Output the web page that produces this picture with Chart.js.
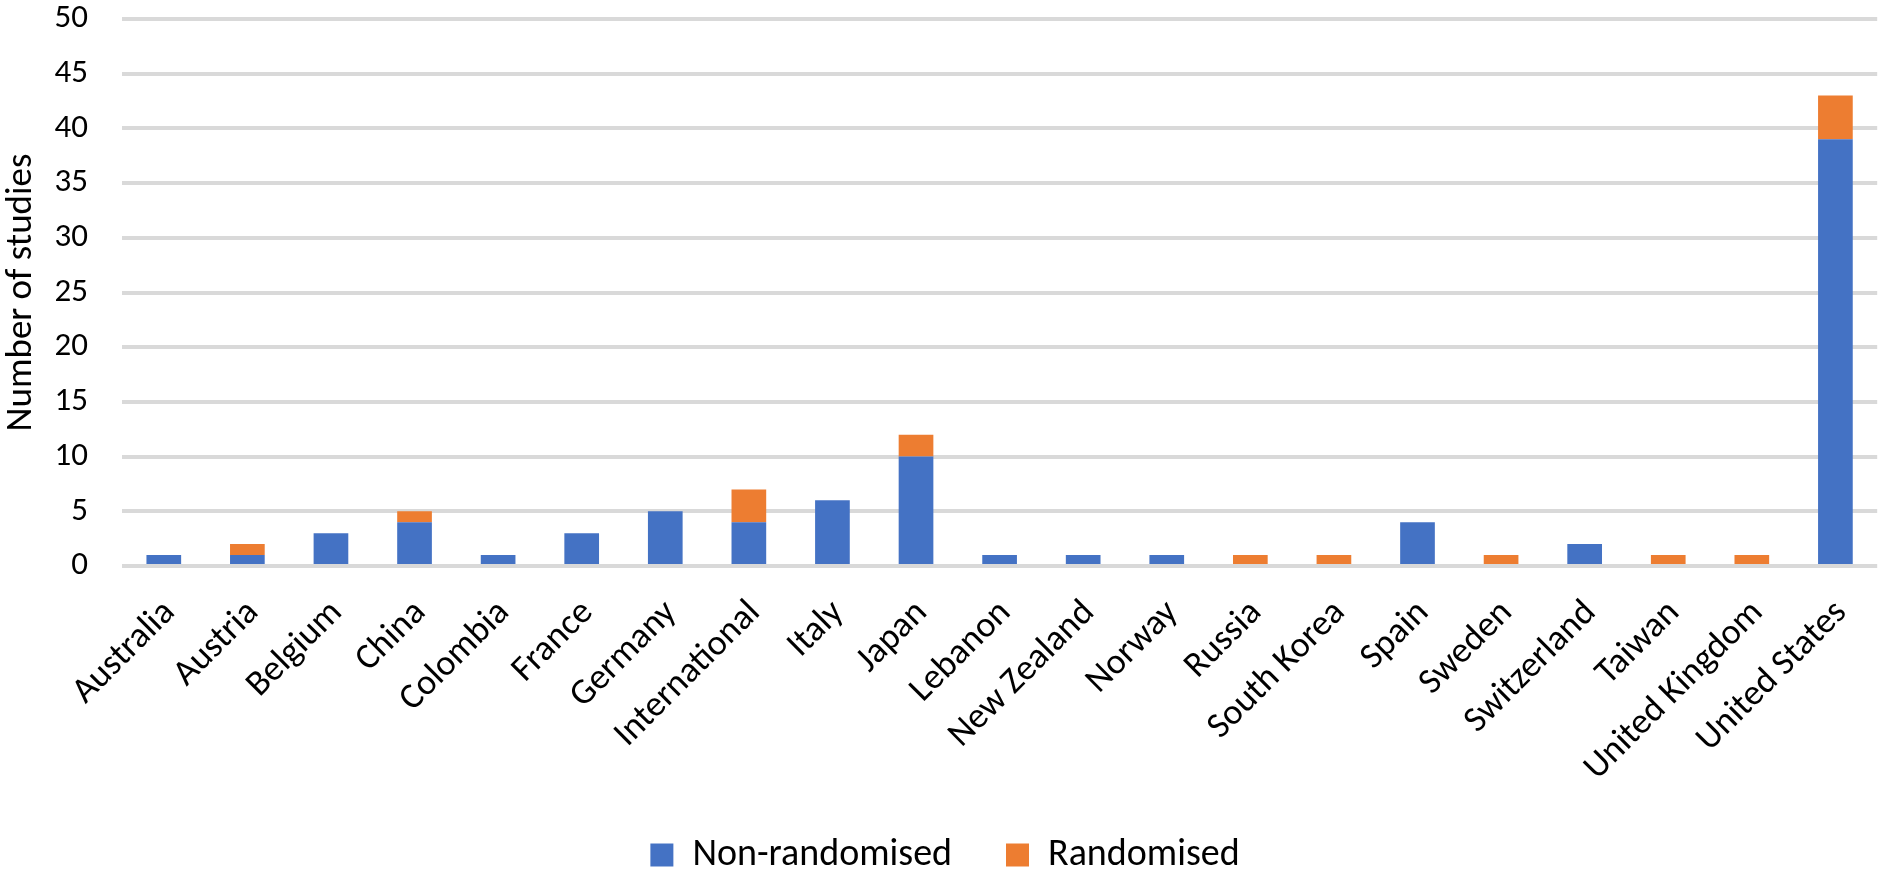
<!DOCTYPE html>
<html>
<head>
<meta charset="utf-8">
<script src="https://cdn.jsdelivr.net/npm/chart.js@4.4.1/dist/chart.umd.min.js"></script>
<style>
  html, body { margin: 0; padding: 0; background: #fff; overflow: hidden; }
  #wrap { width: 1892px; height: 879px; }
</style>
</head>
<body>
<div id="wrap"><canvas id="myChart"></canvas></div>
<script>
const countries = ["Australia", "Austria", "Belgium", "China", "Colombia", "France", "Germany",
  "International", "Italy", "Japan", "Lebanon", "New Zealand", "Norway", "Russia", "South Korea",
  "Spain", "Sweden", "Switzerland", "Taiwan", "United Kingdom", "United States"];
const nonRandomised = [1, 1, 3, 4, 1, 3, 5, 4, 6, 10, 1, 1, 1, 0, 0, 4, 0, 2, 0, 0, 39];
const randomised = [0, 1, 0, 1, 0, 0, 0, 3, 0, 2, 0, 0, 0, 1, 1, 0, 1, 0, 1, 1, 4];
const yTicks = [0, 5, 10, 15, 20, 25, 30, 35, 40, 45, 50];

const font = "Carlito, Lato, 'Open Sans', sans-serif";

var ctx = document.getElementById("myChart").getContext("2d");
var myChart = new Chart(ctx, {
  type: "bar",
  data: {
    labels: countries,
    datasets: [
      {
        label: "Non-randomised",
        data: nonRandomised,
        backgroundColor: "#4472C4",
      },
      {
        label: "Randomised",
        data: randomised,
        backgroundColor: "#ED7D31",
      },
    ],
  },
  options: {
    responsive: true,
    maintainAspectRatio: false,
    animation: false,
    devicePixelRatio: 1,
    layout: { padding: { top: 19, right: 2, left: 0, bottom: -5 } },
    datasets: { bar: { categoryPercentage: 1, barPercentage: 0.415 } },
    plugins: {
      tooltip: { enabled: false },
      legend: {
        position: "bottom",
        labels: {
          boxWidth: 23,
          boxHeight: 23,
          padding: 54,
          color: "#000",
          font: { family: font, size: 38 },
        },
      },
    },
    scales: {
      x: {
        stacked: true,
        grid: { display: false, drawTicks: false },
        border: { display: false },
        ticks: {
          autoSkip: false,
          minRotation: 45,
          maxRotation: 45,
          padding: 26,
          labelOffset: 6,
          color: "#000",
          font: { family: font, size: 36 },
        },
        afterFit: (scale) => { scale.height = 216; },
      },
      y: {
        stacked: true,
        min: 0,
        max: 50,
        afterBuildTicks: (scale) => { scale.ticks = yTicks.map((v) => ({ value: v })); },
        grid: { color: "#d9d9d9", lineWidth: 4, drawTicks: false },
        border: { display: false },
        ticks: {
          padding: 34,
          color: "#000",
          font: { family: font, size: 33 },
        },
        title: {
          display: true,
          text: "Number of studies",
          color: "#000",
          padding: 0,
          font: { family: font, size: 37 },
        },
        afterFit: (scale) => {
          scale.width = 122;
          scale.paddingTop = 0;
          scale.paddingBottom = 0;
        },
      },
    },
  },
});
</script>
</body>
</html>
